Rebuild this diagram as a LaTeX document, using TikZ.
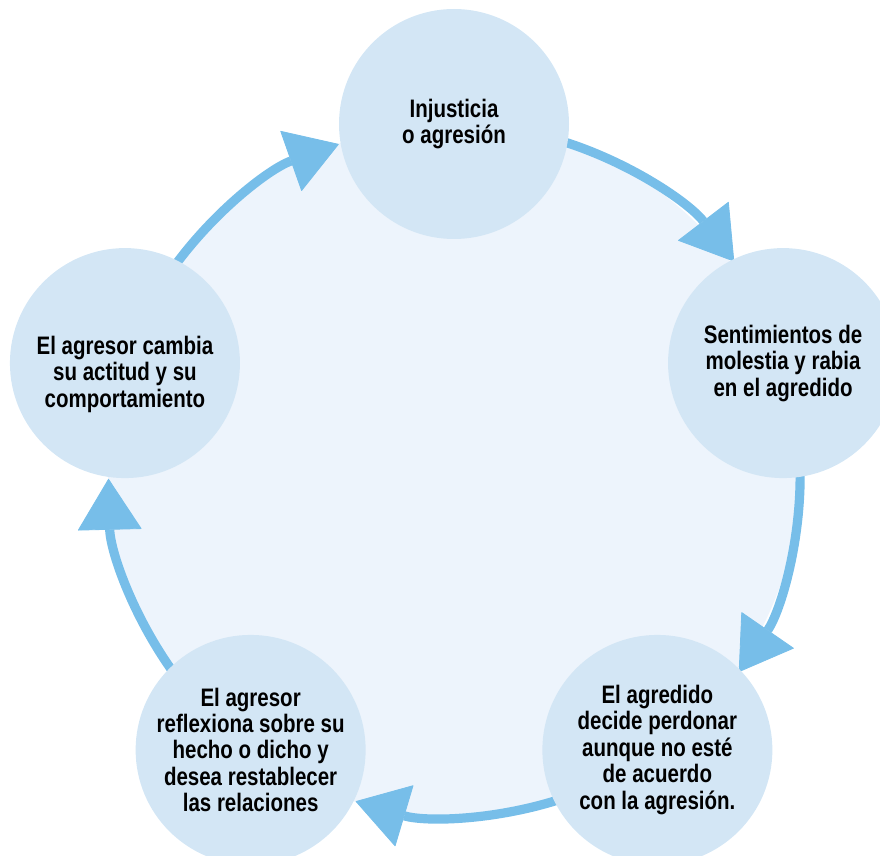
\documentclass[tikz,border=0pt]{standalone}
\usepackage{fontspec}
\setmainfont{Liberation Sans}[FakeStretch=0.81]
\usetikzlibrary{arrows.meta}
\definecolor{ringfill}{HTML}{EDF4FC}
\definecolor{stagefill}{HTML}{D3E6F5}
\definecolor{cyclearrow}{HTML}{77BEE9}

\begin{document}
\begin{tikzpicture}[every node/.style={font=\bfseries\fontsize{18}{18.8}\selectfont},
  stage/.style={circle,fill=stagefill,minimum size=5.75cm,inner sep=0pt,align=center},
  cycleline/.style={draw=cyclearrow,line width=0.23cm,
    -{Triangle[length=1.28cm,width=1.6cm,line width=0.6pt,round]}}]
\useasboundingbox (0,0) rectangle (22,21.375);
\clip (0,0) rectangle (22,21.375);
\node[circle,fill=ringfill,minimum size=17.3cm,inner sep=0pt,outer sep=0pt] (ring) at (11.35,9.625) {};
% arrows from one stage to the next
\foreach \p [evaluate=\p as \s using \p-16.1, evaluate=\p as \e using \p-52.6] in {90,18,-54,-126,-198}
  \draw[cycleline] (ring.\s) arc[start angle=\s,end angle=\e,radius=8.65cm];
% stages
\node[stage] (injusticia) at (ring.90) {Injusticia\\o agresión};
\node[stage] (sentimientos) at (ring.18) {Sentimientos de\\molestia y rabia\\en el agredido};
\node[stage] (perdon) at (ring.-54) {El agredido\\decide perdonar\\aunque no esté\\de acuerdo\\con la agresión.};
\node[stage] (reflexion) at (ring.-126) {El agresor\\reflexiona sobre su\\hecho o dicho y\\desea restablecer\\las relaciones};
\node[stage,label={[yshift=-0.28cm,align=center]center:El agresor cambia\\su actitud y su\\comportamiento}] (cambio) at (ring.162) {};
\end{tikzpicture}
\end{document}
